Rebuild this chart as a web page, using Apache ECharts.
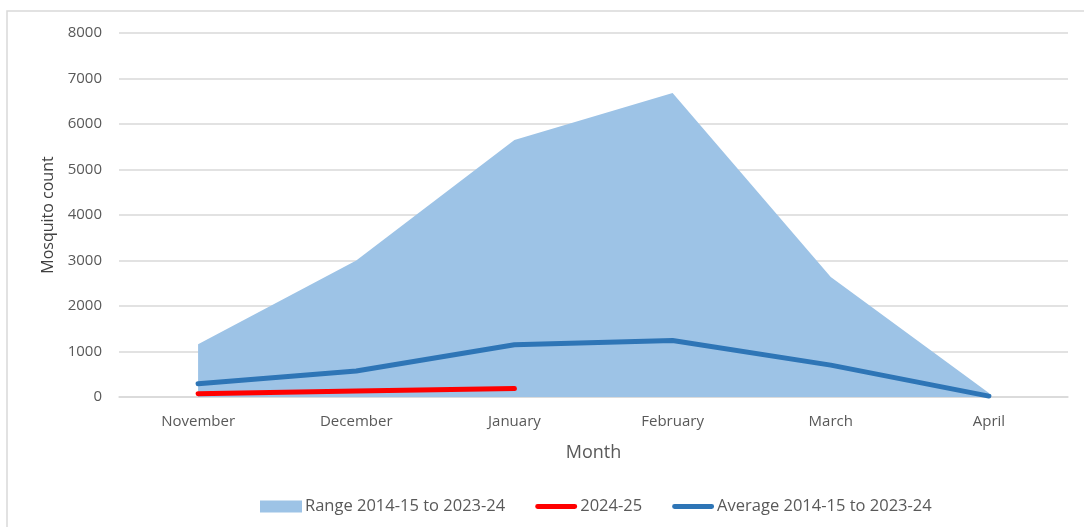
<!DOCTYPE html>
<html>
<head>
<meta charset="utf-8">
<script src="https://cdn.jsdelivr.net/npm/echarts@6/dist/echarts.min.js"></script>
<style>
html, body { margin: 0; padding: 0; background: #fff; }
#chart { width: 1084px; height: 527px; }
</style>
</head>
<body>
<div id="chart"></div>
<script>
// 月份
var months = ['November', 'December', 'January', 'February', 'March', 'April'];
// 2014-15 ~ 2023-24 最大值范围
var rangeMax = [1160, 3000, 5650, 6680, 2640, 90];
// 2024-25 当季
var season2425 = [70, 130, 185];
// 2014-15 ~ 2023-24 平均值
var average = [290, 570, 1150, 1240, 700, 20];

var font = '"Open Sans", "Liberation Sans", sans-serif';
var textColor = '#595959';

var chart = echarts.init(document.getElementById('chart'));
chart.setOption({
    animation: false,
    backgroundColor: '#fff',
    graphic: [{
        type: 'rect',
        shape: { x: 7, y: 11, width: 1100, height: 560 },
        style: { fill: 'none', stroke: '#d9d9d9', lineWidth: 1.5 },
        silent: true
    }],
    grid: {
        left: 119,
        right: 16,
        top: 33,
        bottom: 130
    },
    legend: {
        bottom: 7,
        left: 255,
        itemGap: 30,
        itemWidth: 42,
        itemHeight: 12,
        textStyle: { color: textColor, fontSize: 16.5, fontFamily: font, padding: [0, 0, 0, -2] },
        data: [
            { name: 'Range 2014-15 to 2023-24', icon: 'path://M0,0H42V12H0Z' },
            { name: '2024-25', icon: 'path://M2,0H40A2,2,0,0,1,40,5H2A2,2,0,0,1,2,0Z' },
            { name: 'Average 2014-15 to 2023-24', icon: 'path://M2,0H40A2,2,0,0,1,40,5H2A2,2,0,0,1,2,0Z' }
        ]
    },
    xAxis: {
        type: 'category',
        data: months,
        boundaryGap: true,
        name: 'Month',
        nameLocation: 'middle',
        nameGap: 47,
        nameTextStyle: { color: textColor, fontSize: 18, fontFamily: font },
        axisLine: { show: true, lineStyle: { color: '#d9d9d9', width: 1.5 } },
        axisTick: { show: false },
        axisLabel: { color: textColor, fontSize: 15, fontFamily: font, margin: 17 }
    },
    yAxis: {
        type: 'value',
        min: 0,
        max: 8000,
        interval: 1000,
        name: 'Mosquito count',
        nameLocation: 'middle',
        nameGap: 61,
        nameTextStyle: { color: '#404040', fontSize: 16, fontFamily: font },
        axisLine: { show: false },
        axisTick: { show: false },
        axisLabel: {
            color: textColor, fontSize: 15, fontFamily: font, margin: 17,
            formatter: function (v) { return String(v); }
        },
        splitLine: { lineStyle: { color: '#d9d9d9', width: 1.5 } }
    },
    series: [
        {
            name: 'Range 2014-15 to 2023-24',
            type: 'line',
            data: rangeMax,
            symbol: 'none',
            lineStyle: { width: 0 },
            itemStyle: { color: '#9dc3e6' },
            areaStyle: { color: '#9dc3e6', opacity: 1 },
            z: 1
        },
        {
            name: '2024-25',
            type: 'line',
            data: season2425,
            symbol: 'none',
            lineStyle: { width: 5, color: '#ff0000', cap: 'round' },
            itemStyle: { color: '#ff0000' },
            z: 3
        },
        {
            name: 'Average 2014-15 to 2023-24',
            type: 'line',
            data: average,
            symbol: 'none',
            lineStyle: { width: 5, color: '#2e75b6', cap: 'round' },
            itemStyle: { color: '#2e75b6' },
            z: 2
        }
    ]
});
</script>
</body>
</html>
